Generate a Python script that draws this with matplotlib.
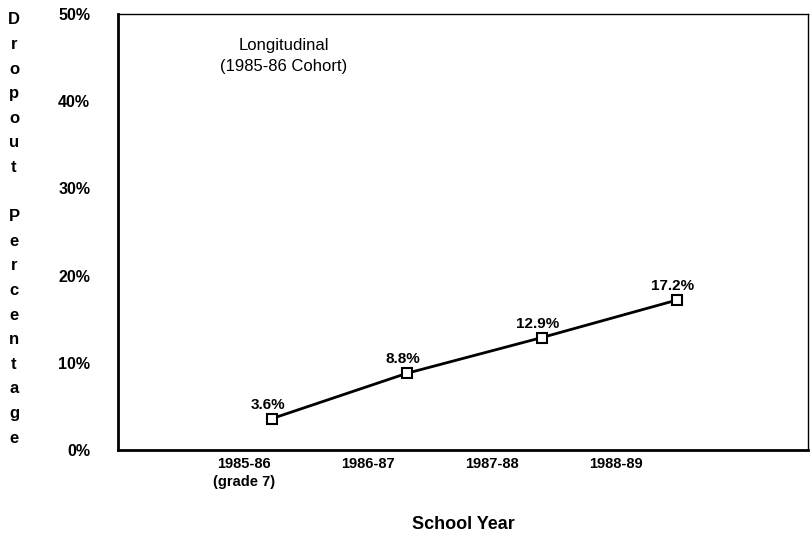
import matplotlib.pyplot as plt
import numpy as np

# data
years = ['1985-86\n(grade 7)', '1986-87', '1987-88', '1988-89']
dropout = [3.6, 8.8, 12.9, 17.2]
point_labels = ['3.6%', '8.8%', '12.9%', '17.2%']
yticks = [0, 10, 20, 30, 40, 50]

plt.rcParams['font.family'] = ['Liberation Sans', 'DejaVu Sans']

fig = plt.figure(figsize=(8.12, 5.4), dpi=100)
ax = fig.add_axes([118 / 812, 90 / 540, 690 / 812, 436 / 540])

x = np.arange(len(dropout))
ax.plot(x, dropout, color='black', lw=2, marker='s', ms=7,
        mfc='white', mec='black', mew=1.5)
for xi, yi, lab in zip(x, dropout, point_labels):
    ax.annotate(lab, (xi, yi), xytext=(-3, 5), textcoords='offset points',
                ha='center', va='bottom', fontsize=11, fontweight='bold')

# tick labels sit a little left of the marks in the original
tick_pos = x * 0.92 - 0.21
ax.set_xticks(tick_pos)
ax.set_xticklabels(years, fontsize=10.5, fontweight='bold', linespacing=1.4)
ax.tick_params(axis='x', length=0, pad=5)
ax.set_xlim(-1.14, 3.97)

ax.set_ylim(0, 50)
ax.set_yticks(yticks)
ax.set_yticklabels([f'{v}%' for v in yticks], fontsize=11.5, fontweight='bold')
ax.tick_params(axis='y', length=0, pad=20)

ax.spines['left'].set_linewidth(2)
ax.spines['bottom'].set_linewidth(2)
ax.spines['top'].set_linewidth(1)
ax.spines['right'].set_linewidth(1)

ax.text(0.24, 0.945, 'Longitudinal\n(1985-86 Cohort)', transform=ax.transAxes,
        ha='center', va='top', fontsize=12, linespacing=1.5)

ax.set_xlabel('School Year', fontsize=13, fontweight='bold', labelpad=19)
fig.text(14 / 812, 1 - 229 / 540, '\n'.join('Dropout Percentage'),
         ha='center', va='center', fontsize=12, fontweight='bold',
         linespacing=1.8)

fig.savefig('out.png', dpi=100)
